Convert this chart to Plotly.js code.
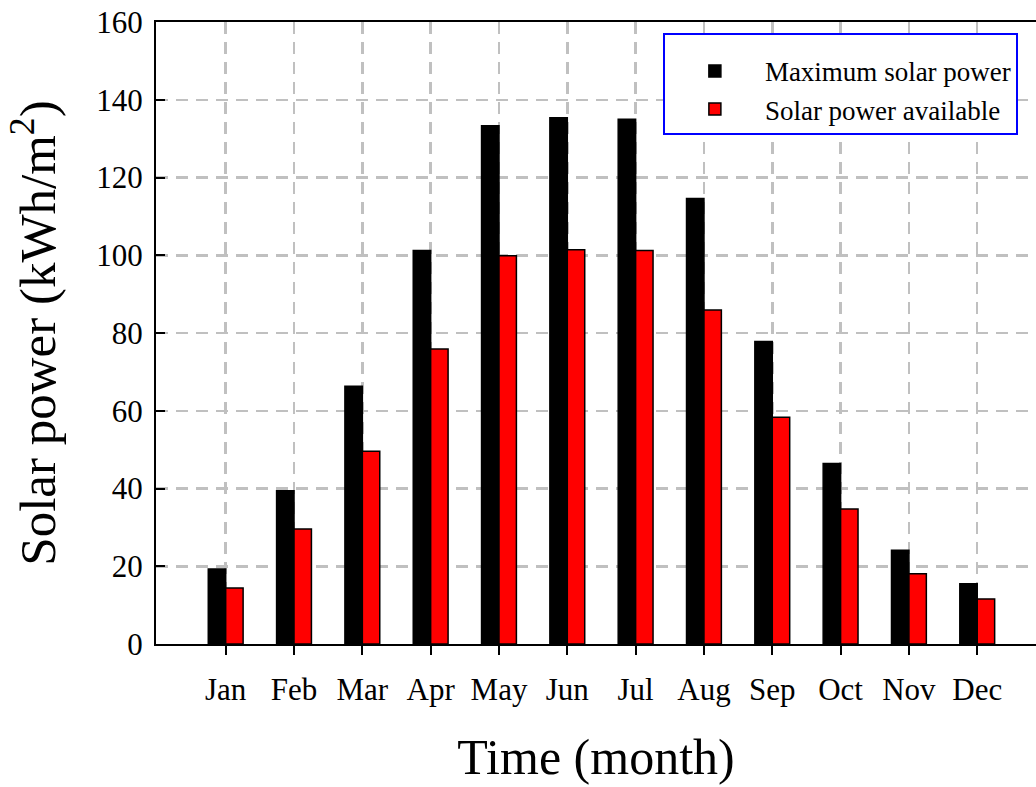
<!DOCTYPE html>
<html>
<head>
<meta charset="utf-8">
<script src="https://cdn.plot.ly/plotly-3.0.1.min.js"></script>
<style>html,body{margin:0;padding:0;background:#fff;}#chart{width:1036px;height:787px;}</style>
</head>
<body>
<div id="chart"></div>
<script>
const months = ["Jan","Feb","Mar","Apr","May","Jun","Jul","Aug","Sep","Oct","Nov","Dec"];
const maxSolar = [19.3, 39.4, 66.3, 101.2, 133.3, 135.4, 135.0, 114.6, 77.8, 46.4, 24.1, 15.5];
const availSolar = [14.4, 29.6, 49.6, 75.9, 99.9, 101.4, 101.2, 85.9, 58.3, 34.7, 18.1, 11.6];
const yTicks = [0, 20, 40, 60, 80, 100, 120, 140, 160];

const serif = "Liberation Serif, Times New Roman, serif";

const traces = [
  {type: "bar", name: "Maximum solar power", x: months, y: maxSolar,
   marker: {color: "#000000", line: {color: "#000000", width: 1.5}}},
  {type: "bar", name: "Solar power available", x: months, y: availSolar,
   marker: {color: "#ff0000", line: {color: "#000000", width: 1.5}}}
];

const layout = {
  width: 1036, height: 787,
  margin: {l: 156, r: 0, t: 22, b: 143},
  paper_bgcolor: "#fff", plot_bgcolor: "#fff",
  barmode: "group", bargap: 0.49, bargroupgap: 0,
  font: {family: serif, color: "#000"},
  xaxis: {
    type: "category", range: [-1.02, 11.86],
    showline: true, linecolor: "#000", linewidth: 2, mirror: true,
    ticks: "outside", ticklen: 9, tickwidth: 2, tickcolor: "#000",
    showgrid: true, gridcolor: "#c0c0c0", gridwidth: 2.5, griddash: "12px,8px",
    tickfont: {family: serif, size: 31, color: "#000"},
    ticklabelstandoff: 8,
    title: {text: "Time (month)", font: {family: serif, size: 50, color: "#000"}, standoff: 33},
    fixedrange: true
  },
  yaxis: {
    range: [0, 160], tickvals: yTicks, ticktext: yTicks.map(String),
    showline: true, linecolor: "#000", linewidth: 2, mirror: false,
    ticks: "inside", ticklen: 9, tickwidth: 2, tickcolor: "#000",
    showgrid: true, gridcolor: "#c0c0c0", gridwidth: 2.5, griddash: "12px,8px",
    zeroline: false,
    tickfont: {family: serif, size: 31, color: "#000"},
    ticklabelstandoff: 5,
    title: {text: "Solar power (kWh/m<sup>2</sup>)", font: {family: serif, size: 51, color: "#000"}, standoff: 24},
    fixedrange: true
  },
  showlegend: true,
  legend: {
    x: 0.576, y: 0.982, xanchor: "left", yanchor: "top",
    bordercolor: "#0000ff", borderwidth: 2, bgcolor: "#fff",
    font: {family: serif, size: 27, color: "#000"},
    itemwidth: 90,
    title: {text: "&nbsp;", font: {family: serif, size: 9, color: "#fff"}}
  }
};

Plotly.newPlot("chart", traces, layout, {displayModeBar: false, staticPlot: true});
</script>
</body>
</html>
